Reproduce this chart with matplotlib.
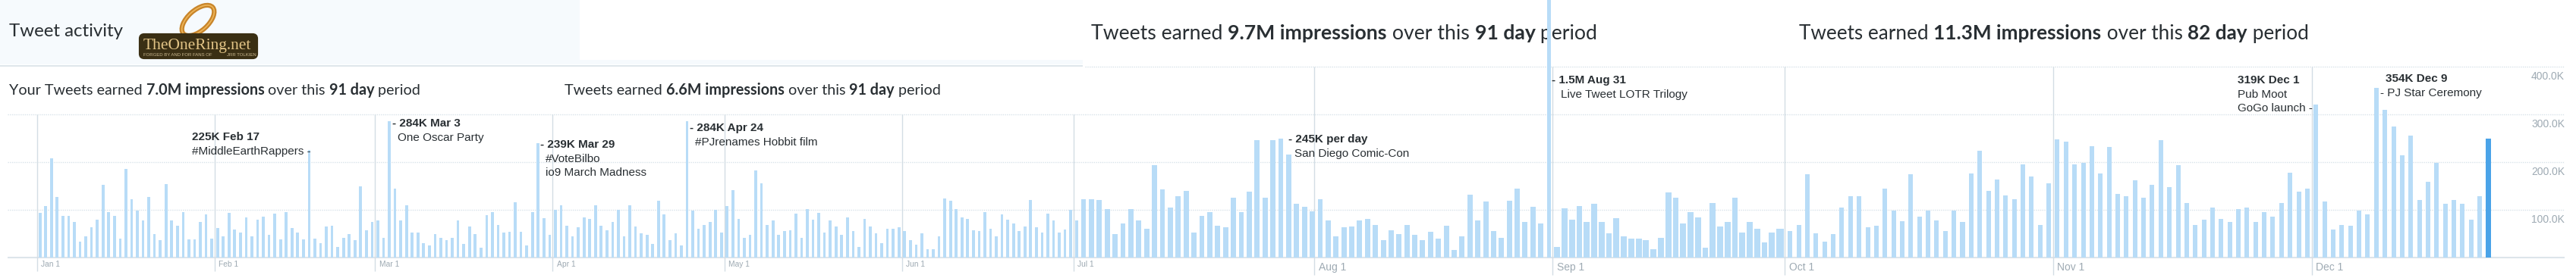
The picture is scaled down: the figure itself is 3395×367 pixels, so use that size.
import numpy as np
import matplotlib
matplotlib.use("Agg")
import matplotlib.pyplot as plt
from matplotlib.patches import FancyBboxPatch, Ellipse, Rectangle

# ---- daily impressions (thousands), in order of the bars
jan_values = [93,108,208,127,87,87,75,33,45,63,80,153,96,87,39,186,122,99,78,127,50,37,154,77,66,95,38,38,75,90,39]
feb_values = [62,45,93,59,53,84,45,80,86,47,92,38,96,62,53,38,226,39,30,65,66,23,42,50,36,149,57,75]
mar_values = [78,41,285,144,77,110,53,53,30,26,50,41,37,42,77,29,65,50,20,89,95,69,53,54,116,54,26,96,240,83,47]
apr_values = [100,110,67,45,63,84,81,110,66,57,75,100,45,110,65,51,47,29,119,90,36,51,26,285,99,60,69,74,100,53]
may_values = [108,141,81,42,48,183,156,69,77,48,56,57,92,41,102,79,93,53,77,65,48,84,56,23,81,65,51,30,60,61,63]
jun_values = [56,36,27,51,18,18,44,124,119,102,84,81,57,56,95,60,44,90,79,71,56,65,120,63,53,92,77,53,59,100]
jul_values = [78,122,122,120,101,49,71,101,77,60,193,143,105,129,140,53,87,95,66,63,126,96,138,246,126,246,249,216,113,106,97]
aug_values = [122,77,44,63,65,78,81,69,36,57,50,69,48,36,54,39,66,16,45,131,77,117,56,42,119,145,74,107,72,1500]
sep_values = [22,103,79,108,75,113,74,51,83,44,40,40,36,18,42,137,125,71,95,84,20,115,65,75,126,53,74,60,32,53,61]
oct_values = [56,69,174,51,33,50,105,128,129,63,67,145,99,76,174,86,98,78,56,98,74,176,224,140,164,130,123,196,170,69,156]
nov_values = [248,243,196,199,234,176,232,133,128,162,126,152,246,148,194,115,68,79,105,81,75,102,104,75,95,86,115,178,138,144]
dec_values = [320,117,59,69,66,98,91,356,310,274,215,256,121,158,199,113,120,112,79,128,250]

month_labels = ["Jan 1","Feb 1","Mar 1","Apr 1","May 1","Jun 1","Jul 1","Aug 1","Sep 1","Oct 1","Nov 1","Dec 1"]
y_ticks = [100, 200, 300, 400]
y_tick_labels = ["100.0K","200.0K","300.0K","400.0K"]

values = np.array(jan_values+feb_values+mar_values+apr_values+may_values+jun_values
                  +jul_values+aug_values+sep_values+oct_values+nov_values+dec_values, float)
idx = np.arange(len(values))

W, H = 3395, 367
plt.rcParams['font.family'] = ['Liberation Sans', 'DejaVu Sans']
fig = plt.figure(figsize=(W/100, H/100), dpi=100, facecolor='white')

back = fig.add_axes([0,0,1,1], zorder=0)
chart = fig.add_axes([0,0,1,1], zorder=1)
front = fig.add_axes([0,0,1,1], zorder=2)
for a in (back, front):
    a.set_xlim(0, W); a.set_ylim(H, 0); a.axis('off'); a.patch.set_alpha(0)

# The reference is four stitched screenshots: piecewise bar index -> pixel
anch_i = np.array([-6.98, 0, 181, 182, 212, 240, 241, 242, 272, 273, 354, 364.17])
anch_p = np.array([0, 52.7, 1418.7, 1428, 1740, 2030.7, 2042, 2052.3, 2345, 2359.3, 3279.5, 3395])
fwd = lambda v: np.interp(v, anch_i, anch_p)
inv = lambda p: np.interp(p, anch_p, anch_i)
chart.set_xscale('function', functions=(fwd, inv))
chart.set_xlim(-6.98, 364.17)
base_px, per100 = 340.0, 63.0
chart.set_ylim(-(H-base_px)/per100*100, base_px/per100*100)
chart.axis('off'); chart.patch.set_alpha(0)

GRID = '#d9e3ea'; TICK = '#d3dde4'; LAB = '#9eaab3'; TXT = '#292f33'
mid, right_end = inv(1430), inv(3380)
for v in y_ticks:
    if v < 400:
        chart.hlines(v, inv(10), mid, color=GRID, lw=1.0, ls=(0,(1,1)), zorder=1)
    chart.hlines(v, mid, right_end, color=GRID, lw=1.0, ls=(0,(1,1)), zorder=1)
    chart.annotate(y_tick_labels[v//100-1], xy=(1-15/W, v), xycoords=chart.get_yaxis_transform(),
                   xytext=(0,-9.4), textcoords='offset points', ha='right', va='center',
                   fontsize=10, color=LAB)
chart.hlines(0, inv(10), right_end, color='#dde5eb', lw=1.5, zorder=1)

# month marks: between bars, where the screenshots put them
month_pos = [-0.5, 30.5, 58.5, 89.5, 119.5, 150.5, 180.5, 211.25, 241.4, 272.5, 303.5, 333.5]
for k, (mp, lab) in enumerate(zip(month_pos, month_labels)):
    big = k >= 7
    chart.vlines(mp, -(363-base_px if big else 358-base_px)/per100*100, 400 if big else 300,
                 color=TICK, lw=1.0, zorder=1)
    chart.annotate(lab, xy=(mp, 0), xytext=(4.0, (-9.4 if big else -6.5)), textcoords='offset points',
                   ha='left', va='center', fontsize=10 if big else 7.4, color=LAB)

# bars
widths = np.select([idx <= 181, idx <= 240, idx == 241, idx <= 272],
                   [0.49, 0.67, 0.45, 0.8], 0.53)
colors = ['#b8dcf7'] * len(values)
colors[-1] = '#4aa3e8'
chart.bar(idx, values, width=widths, color=colors, linewidth=0, zorder=2)

# ---- mixed-weight text runs
def runs(ax, x, y, parts, size, family):
    r = fig.canvas.get_renderer()
    for s, bold in parts:
        ax.text(x, y, s, fontsize=size, family=family, weight='bold' if bold else 'normal',
                color=TXT, va='baseline', ha='left')
        g = ax.text(0, 0, s.replace(' ', '\u00a0'), fontsize=size, family=family,
                    weight='bold' if bold else 'normal')
        x += g.get_window_extent(r).width
        g.remove()

FONT = 'Lato'
runs(back, 12, 125, [("Your Tweets earned ",0),("7.0M impressions",1),(" over this ",0),("91 day",1),(" period",0)], 14.2, FONT)
runs(back, 744, 125, [("Tweets earned ",0),("6.6M impressions",1),(" over this ",0),("91 day",1),(" period",0)], 14.2, FONT)
runs(back, 1438, 52, [("Tweets earned ",0),("9.7M impressions",1),(" over this ",0),("91 day",1),(" period",0)], 19.15, FONT)
runs(back, 2371, 52, [("Tweets earned ",0),("11.3M impressions",1),(" over this ",0),("82 day",1),(" period",0)], 18.85, FONT)

# header band and logo
back.add_patch(Rectangle((0,0), 764, 85, color='#f6fafd', lw=0))
back.add_patch(Rectangle((764,79), 663, 6, color='#f6fafd', lw=0))
back.add_patch(Rectangle((0,85.5), 1427, 2.5, color='#dfe6eb', lw=0))
back.text(12, 48, "Tweet activity", fontsize=17.3, family=FONT, color=TXT, va='baseline')

front.add_patch(Ellipse((261,27), 27, 52, angle=48, fill=False, ec='#c8852b', lw=4.5))
front.add_patch(Ellipse((261,27), 27, 52, angle=48, fill=False, ec='#eeb65a', lw=1.2))
front.add_patch(FancyBboxPatch((185,46), 153, 30, boxstyle='round,pad=0,rounding_size=5',
                               mutation_aspect=1, fc='#3a2f14', ec='#3a2f14', lw=3))
front.text(260, 65, "TheOneRing.net", fontsize=15.5, family='Liberation Serif', color='#e2c486',
           ha='center', va='baseline')
front.text(189, 74, "FORGED BY AND FOR FANS OF", fontsize=4.3, color='#cdbb92', va='baseline')
front.text(299, 74, "JRR TOLKIEN", fontsize=4.3, color='#cdbb92', va='baseline')

# ---- annotations
def note(x, y, s, bold=False):
    front.text(x, y, s, fontsize=11, color=TXT, weight='bold' if bold else 'normal', va='baseline')

note(253.3, 185, "225K Feb 17", True);  note(253.3, 204, "#MiddleEarthRappers -")
note(516.7, 167, "- 284K Mar 3", True); note(524, 186, "One Oscar Party")
note(711.7, 195, "- 239K Mar 29", True); note(719.3, 214, "#VoteBilbo"); note(719.3, 232, "io9 March Madness")
note(908.7, 173, "- 284K Apr 24", True); note(916, 192, "#PJrenames Hobbit film")
note(1698, 188.3, "- 245K per day", True); note(1706, 207, "San Diego Comic-Con")
note(2044.7, 110, "- 1.5M Aug 31", True); note(2056.6, 129, "Live Tweet LOTR Trilogy")
note(2948.8, 110, "319K Dec 1", True); note(2948.8, 128.7, "Pub Moot"); note(2948.8, 146.7, "GoGo launch -")
note(3144, 107.7, "354K Dec 9", True); note(3137, 126.7, "- PJ Star Ceremony")

fig.savefig("out.png", dpi=100, facecolor='white')
